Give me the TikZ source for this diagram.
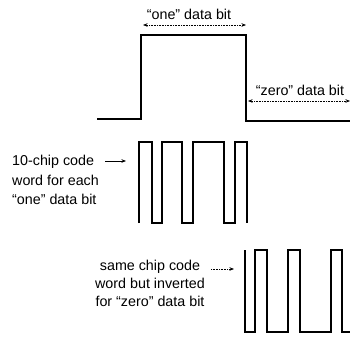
\documentclass[tikz,border=0pt]{standalone}
\usepackage{fontspec}
\setmainfont{Liberation Sans}
\usetikzlibrary{arrows.meta,positioning}

\tikzset{
  wave/.style={line width=1.5pt, line join=miter},
  dimarrow/.style={densely dotted, line width=0.6pt,
    {Stealth[length=4.5pt,width=3.5pt]}-{Stealth[length=4.5pt,width=3.5pt]}},
  pointer/.style={line width=0.6pt, -{Stealth[length=4.5pt,width=3.5pt]}},
  lbl/.style={font=\fontsize{14.3}{18}\selectfont, inner sep=0pt},
}

\begin{document}
\begin{tikzpicture}[x=1pt,y=-1pt]
  \useasboundingbox (0,0) rectangle (350,338);
  % Data bits: one, then zero
  \draw[wave] (97,119) -- (141,119) -- (141,35) -- (246,35) -- (246,121) -- (350,121);
  \coordinate (oneL) at (143,25);
  \coordinate (oneR) at (246,25);
  \coordinate (zeroL) at (248,101);
  \coordinate (zeroR) at (350,101);
  \draw[dimarrow] (oneL) -- (oneR);
  \draw[dimarrow] (zeroL) -- (zeroR);
  \node[lbl] (onebit) at (189,14) {``one'' data bit};
  \node[lbl] (zerobit) at (300,90) {``zero'' data bit};
  % Chip code 1011011101 for a one
  \draw[wave] (139,223) -- (139,142) -- (152,142) -- (152,223) -- (162,223)
    -- (162,142) -- (182,142) -- (182,223) -- (193,223) -- (193,142)
    -- (224,142) -- (224,223) -- (235,223) -- (235,142) -- (247,142) -- (247,223);
  \node[lbl, align=left, anchor=north west, font=\fontsize{14.3}{19.5}\selectfont]
    (chipword) at (12,155) {10-chip code\\word for each\\``one'' data bit};
  \coordinate (chipTail) at (105,161);
  \coordinate (chipHead) at (126,161);
  \draw[pointer] (chipTail) -- (chipHead);
  % Inverted code 0100100010 for a zero
  \draw[wave] (245,250) -- (245,332) -- (255,332) -- (255,250) -- (267,250)
    -- (267,332) -- (288,332) -- (288,250) -- (300,250) -- (300,332)
    -- (331,332) -- (331,250) -- (342,250) -- (342,332) -- (350,332);
  \node[lbl, align=center, anchor=north] (invword) at (150,260)
    {same chip code\\word but inverted\\for ``zero'' data bit};
  \coordinate (invTail) at (211,269);
  \coordinate (invHead) at (234,269);
  \draw[pointer, densely dotted] (invTail) -- (invHead);
\end{tikzpicture}
\end{document}
